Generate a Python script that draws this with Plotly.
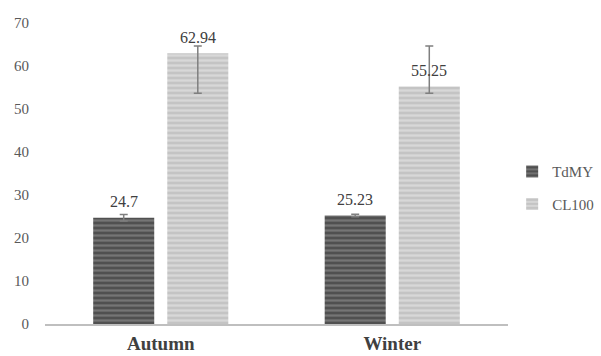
import plotly.graph_objects as go

seasons = ["Autumn", "Winter"]
tdmy = [24.7, 25.23]
cl100 = [62.94, 55.25]
tdmy_err_plus = [0.75, 0.3]
tdmy_err_minus = [0.75, 0.3]
cl100_err_plus = [1.7, 9.4]
cl100_err_minus = [9.3, 1.6]
yticks = [0, 10, 20, 30, 40, 50, 60, 70]

font_family = "Liberation Serif, Times New Roman, serif"

fig = go.Figure()
fig.add_trace(go.Bar(
    name="TdMY", x=seasons, y=tdmy, legendgroup="a",
    marker=dict(color="#6a6a6a", line=dict(width=0),
                pattern=dict(shape="-", fgcolor="#9a9a9a", bgcolor="#505050", size=5, solidity=0.45)),
    error_y=dict(type="data", symmetric=False, array=tdmy_err_plus, arrayminus=tdmy_err_minus,
                 color="#7f7f7f", thickness=1.5, width=4),
))
fig.add_trace(go.Bar(
    name="CL100", x=seasons, y=cl100, legendgroup="b",
    marker=dict(color="#d0d0d0", line=dict(width=0),
                pattern=dict(shape="-", fgcolor="#ececec", bgcolor="#c4c4c4", size=5, solidity=0.45)),
    error_y=dict(type="data", symmetric=False, array=cl100_err_plus, arrayminus=cl100_err_minus,
                 color="#7f7f7f", thickness=1.5, width=4),
))

# value labels just above each bar top
for vals, xs in ((tdmy, -37), (cl100, 37)):
    for s, v in zip(seasons, vals):
        fig.add_annotation(x=s, y=v, text=str(v), showarrow=False, xref="x", yref="y",
                           xshift=xs, yshift=16, yanchor="middle",
                           font=dict(family=font_family, size=16, color="#404040"))

fig.update_layout(
    width=601, height=356,
    margin=dict(l=45, r=93, t=23, b=32, autoexpand=False),
    paper_bgcolor="white", plot_bgcolor="white",
    barmode="group", bargap=0.36, bargroupgap=0.176,
    font=dict(family=font_family, color="#595959"),
    showlegend=True,
    legend=dict(x=1.009, xanchor="left", y=0.453, yanchor="middle",
                font=dict(family=font_family, size=15, color="#595959"),
                itemwidth=30, tracegroupgap=10),
    xaxis=dict(showline=True, linecolor="#bfbfbf", linewidth=2, ticks="",
               automargin=False, ticklabelstandoff=1,
               tickfont=dict(family=font_family, size=19, color="#404040", weight="bold"),
               showgrid=False),
    yaxis=dict(range=[0, 70], tickvals=yticks, showgrid=False, zeroline=False,
               showline=False, ticks="", ticklabelstandoff=15, automargin=False,
               tickfont=dict(family=font_family, size=15, color="#595959")),
)

fig.write_html("out.html", config={"displayModeBar": False},
               post_script="document.body.style.margin='0';document.body.style.overflow='hidden';")
